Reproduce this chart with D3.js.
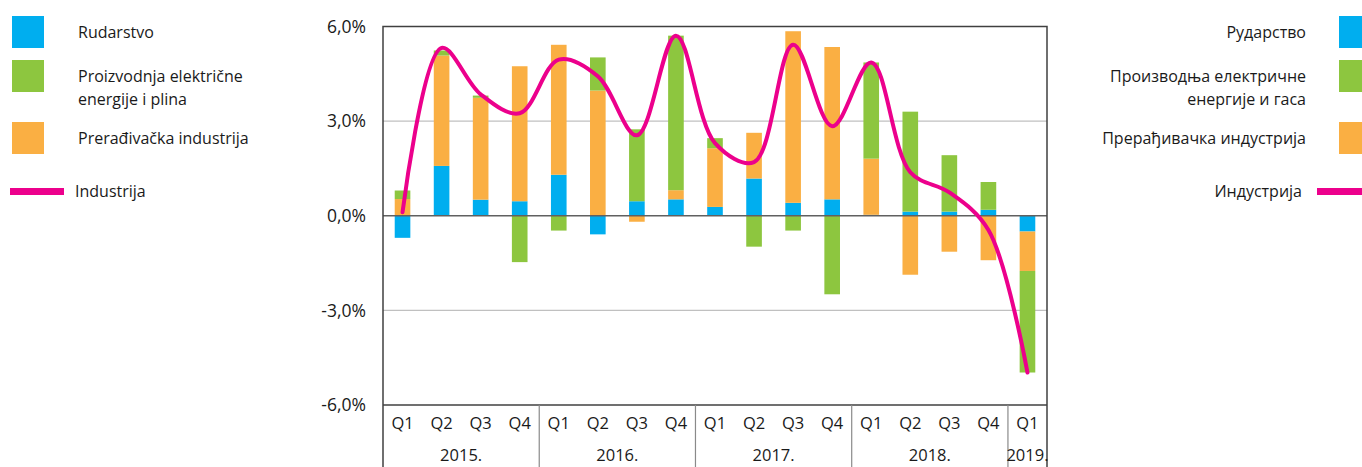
<!DOCTYPE html>
<html>
<head>
<meta charset="utf-8">
<script src="https://cdn.jsdelivr.net/npm/d3@7"></script>
<style>
  body { margin:0; background:#fff; }
  svg { display:block; font-family:"Open Sans", sans-serif; }
</style>
</head>
<body>
<div id="chart"></div>
<script>
// quarters and years
var quarters = ["Q1","Q2","Q3","Q4","Q1","Q2","Q3","Q4","Q1","Q2","Q3","Q4","Q1","Q2","Q3","Q4","Q1"];
var years = ["2015.","2016.","2017.","2018.","2019."];
var yearOf = [0,0,0,0,1,1,1,1,2,2,2,2,3,3,3,3,4];

// series (percent contributions)
var rudarstvo   = [-0.70, 1.58, 0.51, 0.46, 1.30, -0.59, 0.46, 0.52, 0.28, 1.18, 0.41, 0.52, 0.03, 0.13, 0.13, 0.19, -0.50];
var energija    = [0.27, 0.16, 0.07, -1.47, -0.47, 1.05, 2.28, 4.90, 0.32, -0.98, -0.47, -2.49, 3.05, 3.17, 1.79, 0.88, -3.22];
var preradjivacka = [0.53, 3.50, 3.23, 4.28, 4.12, 3.97, -0.19, 0.29, 1.86, 1.45, 5.44, 4.83, 1.78, -1.87, -1.14, -1.41, -1.25];
var industrija  = [0.11, 5.32, 3.85, 3.25, 4.95, 4.42, 2.55, 5.71, 2.30, 1.70, 5.42, 2.84, 4.86, 1.38, 0.74, -0.45, -4.97];

var yTicks = [6, 3, 0, -3, -6];

var legendLat = ["Rudarstvo", ["Proizvodnja električne","energije i plina"], "Prerađivačka industrija"];
var legendCyr = ["Рудaрство", ["Производња електричне","енергије и гаса"], "Прерађивачка индустрија"];
var lineLat = "Industrija", lineCyr = "Индустрија";

var colors = { rud:"#00AEEF", ene:"#8DC63F", pre:"#FAAF43", ind:"#EC008C" };

var W = 1362, H = 467;
var svg = d3.select("#chart").append("svg").attr("width", W).attr("height", H);

var plotL = 383, plotR = 1047, plotT = 26.5, plotB = 405;

var x = d3.scaleBand().domain(d3.range(quarters.length)).range([plotL, plotR])
  .paddingInner(0.6).paddingOuter(0.3);
var y = d3.scaleLinear().domain([-6, 6]).range([plotB, plotT]);

var fmt = function(v){ return v.toFixed(1).replace(".", ",") + "%"; };

// gridlines
svg.append("g").selectAll("line").data([3, -3]).enter().append("line")
  .attr("x1", plotL).attr("x2", plotR)
  .attr("y1", function(d){ return y(d); }).attr("y2", function(d){ return y(d); })
  .attr("stroke", "#c0c0c0").attr("stroke-width", 1.3);

// stacked bars, stack order: rudarstvo, prerađivačka, energija
var rows = quarters.map(function(q, i){
  return { rud: rudarstvo[i], pre: preradjivacka[i], ene: energija[i] };
});
var stack = d3.stack().keys(["rud","pre","ene"]).offset(d3.stackOffsetDiverging);
var layers = stack(rows);

svg.append("g").selectAll("g").data(layers).enter().append("g")
  .attr("fill", function(d){ return colors[d.key]; })
  .selectAll("rect").data(function(d){ return d; }).enter().append("rect")
  .attr("x", function(d, i){ return x(i); })
  .attr("width", x.bandwidth())
  .attr("y", function(d){ return y(Math.max(d[0], d[1])); })
  .attr("height", function(d){ return Math.abs(y(d[0]) - y(d[1])); });

// zero line
svg.append("line").attr("x1", plotL).attr("x2", plotR).attr("y1", y(0)).attr("y2", y(0))
  .attr("stroke", "#606060").attr("stroke-width", 1.5);

// frame
svg.append("path")
  .attr("d", "M" + plotL + "," + H + "V" + plotT + "H" + plotR + "V" + H)
  .attr("fill", "none").attr("stroke", "#404040").attr("stroke-width", 1.5);
svg.append("line").attr("x1", plotL).attr("x2", plotR).attr("y1", plotB).attr("y2", plotB)
  .attr("stroke", "#404040").attr("stroke-width", 1.3);

// year separators
var seps = [4, 8, 12, 16].map(function(i){ return x(i) - x.step() * x.paddingInner() / 2; });
svg.append("g").selectAll("line").data(seps).enter().append("line")
  .attr("x1", function(d){ return d; }).attr("x2", function(d){ return d; })
  .attr("y1", plotB).attr("y2", H)
  .attr("stroke", "#8a8a8a").attr("stroke-width", 1.2);

// line
var line = d3.line()
  .x(function(d, i){ return x(i) + x.bandwidth() / 2; })
  .y(function(d){ return y(d); })
  .curve(d3.curveCatmullRom.alpha(0.5));
svg.append("path").datum(industrija).attr("d", line)
  .attr("fill", "none").attr("stroke", colors.ind).attr("stroke-width", 4)
  .attr("stroke-linecap", "round");

// y tick labels
svg.append("g").selectAll("text").data(yTicks).enter().append("text")
  .attr("x", 366).attr("y", function(d){ return y(d); }).attr("dy", "0.35em")
  .attr("text-anchor", "end").attr("font-size", 17.5).attr("fill", "#1a1a1a")
  .text(fmt);

// quarter labels
svg.append("g").selectAll("text").data(quarters).enter().append("text")
  .attr("x", function(d, i){ return x(i) + x.bandwidth() / 2; }).attr("y", 423).attr("dy", "0.35em")
  .attr("text-anchor", "middle").attr("font-size", 16.5).attr("fill", "#1a1a1a")
  .text(function(d){ return d; });

// year labels
var yearCenters = years.map(function(yy, k){
  var idx = d3.range(quarters.length).filter(function(i){ return yearOf[i] === k; });
  return (x(idx[0]) + x(idx[idx.length - 1]) + x.bandwidth()) / 2;
});
svg.append("g").selectAll("text").data(years).enter().append("text")
  .attr("x", function(d, k){ return yearCenters[k]; }).attr("y", 455).attr("dy", "0.35em")
  .attr("text-anchor", "middle").attr("font-size", 16.5).attr("fill", "#1a1a1a")
  .text(function(d){ return d; });

// legends
var legY = [32, 76, 138];
var sqY = [16, 60, 122];
var legCol = [colors.rud, colors.ene, colors.pre];

function drawLegend(labels, lineLabel, sqX, txtX, anchor, lineX1, lineX2, lineTxtX){
  var g = svg.append("g").attr("font-size", 16).attr("fill", "#1a1a1a");
  labels.forEach(function(lab, i){
    g.append("rect").attr("x", sqX).attr("y", sqY[i]).attr("width", 32).attr("height", 32)
      .attr("fill", legCol[i]);
    var lines = Array.isArray(lab) ? lab : [lab];
    lines.forEach(function(t, j){
      g.append("text").attr("x", txtX).attr("y", legY[i] + j * 23).attr("dy", "0.35em")
        .attr("text-anchor", anchor).text(t);
    });
  });
  g.append("line").attr("x1", lineX1).attr("x2", lineX2).attr("y1", 191.5).attr("y2", 191.5)
    .attr("stroke", colors.ind).attr("stroke-width", 7);
  g.append("text").attr("x", lineTxtX).attr("y", 191).attr("dy", "0.35em")
    .attr("text-anchor", anchor).text(lineLabel);
}
drawLegend(legendLat, lineLat, 12, 78, "start", 10, 64, 75);
drawLegend(legendCyr, lineCyr, 1339, 1306, "end", 1317, 1362, 1302);
</script>
</body>
</html>
